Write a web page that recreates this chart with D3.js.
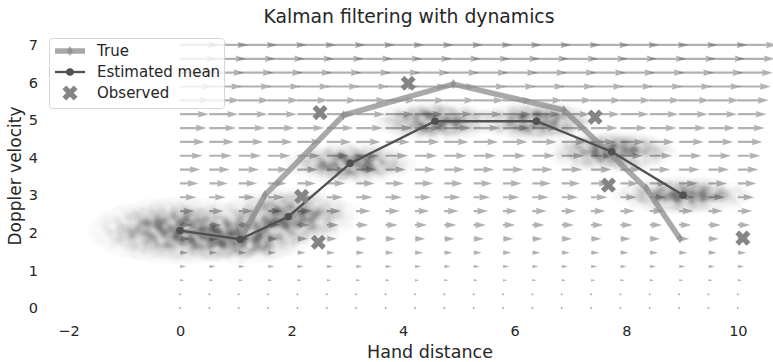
<!DOCTYPE html>
<html>
<head>
<meta charset="utf-8">
<script src="https://cdn.jsdelivr.net/npm/d3@7"></script>
<style>
  body { margin: 0; background: #fff; }
  svg { display: block; }
  text { font-family: "DejaVu Sans", sans-serif; fill: #262626; }
</style>
</head>
<body>
<svg id="chart" width="773" height="362"></svg>
<script>
// True state trajectory (hand distance, doppler velocity)
const trueX = [0, 1.08, 1.52, 2.93, 4.90, 6.88, 8.36, 8.96];
const trueV = [2.06, 1.83, 3.00, 5.13, 5.96, 5.27, 3.18, 1.85];
// Filtered posterior means
const estX = [0, 1.08, 1.94, 3.05, 4.57, 6.39, 7.74, 9.02];
const estV = [2.06, 1.83, 2.43, 3.85, 4.97, 4.97, 4.16, 3.00];
// Noisy observations
const obsX = [2.18, 2.48, 2.51, 4.09, 7.44, 7.68, 10.09];
const obsV = [2.97, 1.75, 5.20, 5.98, 5.08, 3.27, 1.86];
// Posterior spread around each mean (standard deviations)
const cloudSdX = [0.55, 0.42, 0.42, 0.40, 0.38, 0.37, 0.40, 0.42];
const cloudSdV = [0.30, 0.22, 0.26, 0.19, 0.18, 0.18, 0.19, 0.17];
// Axis ticks
const xTicks = [-2, 0, 2, 4, 6, 8, 10];
const yTicks = [0, 1, 2, 3, 4, 5, 6, 7];
// Dynamics field: position advances by velocity * dt
const dt = 0.1;
const linspace = (a, b, n) => d3.range(n).map(i => a + (b - a) * i / (n - 1));
const gridX = linspace(0, 10, 20);
const gridV = linspace(0, 7, 20);

const svg = d3.select("#chart");
const x = d3.scaleLinear().domain([-2.42, 10.63]).range([45, 773]);
const y = d3.scaleLinear().domain([-0.3, 7.3]).range([319.3, 33.7]);

const defs = svg.append("defs");
// Saturating gaussian density so that the sparse tails stay visible
const grad = defs.append("radialGradient").attr("id", "cloudFill");
const K = 3;           // ellipse radius in standard deviations
const maxOp = 0.64, gain = 3;
d3.range(0, 1.0001, 0.05).forEach(t => {
  const dens = Math.exp(-Math.pow(t * K, 2) / 2);
  grad.append("stop")
    .attr("offset", t)
    .attr("stop-color", "#1a1a1a")
    .attr("stop-opacity", maxOp * (1 - Math.exp(-gain * dens)));
});
// Grain texture for the sample clouds
const grain = defs.append("filter").attr("id", "grain")
  .attr("filterUnits", "userSpaceOnUse")
  .attr("x", 0).attr("y", 0).attr("width", 773).attr("height", 362);
grain.append("feTurbulence").attr("type", "fractalNoise")
  .attr("baseFrequency", 0.11).attr("numOctaves", 1).attr("seed", 7).attr("result", "noise");
grain.append("feColorMatrix").attr("in", "noise").attr("type", "matrix")
  .attr("values", "0 0 0 0 0  0 0 0 0 0  0 0 0 0 0  1.5 0 0 0 -0.05")
  .attr("result", "mask");
grain.append("feComposite").attr("in", "SourceGraphic").attr("in2", "mask").attr("operator", "in");

// ---- quiver field ----
const w = 2.2, hl = 5, hal = 4.5, hw = 3;   // arrow proportions in shaft widths
function arrowPath(px, py, L) {
  const Lw = L / w;
  if (Lw < 1) {
    return d3.range(6).map(k => {
      const a = Math.PI / 3 * k;
      return [px + Math.cos(a) * 0.5 * w, py + Math.sin(a) * 0.5 * w];
    });
  }
  let xs, ys;
  if (Lw < hl) {
    const s = Lw / hl;
    xs = [0, hl - hal, 0, hl].map(v => v * s);
    ys = [0.5, 0.5, hw / 2, 0].map(v => v * s);
  } else {
    xs = [0, Lw - hal, Lw - hl, Lw];
    ys = [0.5, 0.5, hw / 2, 0];
  }
  const pts = [];
  for (let i = 0; i < 4; i++) pts.push([px + xs[i] * w, py - ys[i] * w]);
  for (let i = 2; i >= 0; i--) pts.push([px + xs[i] * w, py + ys[i] * w]);
  return pts;
}
const field = [];
gridV.forEach(v => gridX.forEach(gx => field.push({ gx, v })));
svg.append("g").attr("class", "quiver")
  .selectAll("polygon").data(field).join("polygon")
  .attr("points", d => {
    const L = x(d.gx + dt * d.v) - x(d.gx);
    return arrowPath(x(d.gx), y(d.v), L).map(p => p.join(",")).join(" ");
  })
  .attr("fill", "#666").attr("fill-opacity", 0.5);

// ---- posterior clouds ----
svg.append("g").attr("class", "clouds").attr("filter", "url(#grain)")
  .selectAll("ellipse").data(estX).join("ellipse")
  .attr("cx", (d, i) => x(estX[i]))
  .attr("cy", (d, i) => y(estV[i]))
  .attr("rx", (d, i) => x(K * cloudSdX[i]) - x(0))
  .attr("ry", (d, i) => y(0) - y(K * cloudSdV[i]))
  .attr("fill", "url(#cloudFill)");

// ---- true trajectory ----
const line = d3.line().x(d => x(d[0])).y(d => y(d[1]));
const truePts = trueX.map((v, i) => [v, trueV[i]]);
const estPts = estX.map((v, i) => [v, estV[i]]);
const diamond = "M0,-5 L3,0 L0,5 L-3,0 Z";
svg.append("path").attr("d", line(truePts))
  .attr("fill", "none").attr("stroke", "#8c8c8c").attr("stroke-opacity", 0.75)
  .attr("stroke-width", 5.5).attr("stroke-linejoin", "round");
svg.append("g").selectAll("path").data(truePts).join("path")
  .attr("d", diamond)
  .attr("transform", d => `translate(${x(d[0])},${y(d[1])})`)
  .attr("fill", "#8c8c8c").attr("fill-opacity", 0.75);

// ---- estimated mean ----
svg.append("path").attr("d", line(estPts))
  .attr("fill", "none").attr("stroke", "#505050").attr("stroke-width", 2.3);
svg.append("g").selectAll("circle").data(estPts).join("circle")
  .attr("cx", d => x(d[0])).attr("cy", d => y(d[1])).attr("r", 3.8)
  .attr("fill", "#505050");

// ---- observations ----
function xMarker(s) {
  const h = s / 2, t = s / 6;
  const plus = [[t,t],[h,t],[h,-t],[t,-t],[t,-h],[-t,-h],[-t,-t],[-h,-t],[-h,t],[-t,t],[-t,h],[t,h]];
  const c = Math.SQRT1_2;
  return "M" + plus.map(([a, b]) => [(a - b) * c, (a + b) * c].join(",")).join("L") + "Z";
}
svg.append("g").selectAll("path").data(obsX).join("path")
  .attr("d", xMarker(16))
  .attr("transform", (d, i) => `translate(${x(obsX[i])},${y(obsV[i])})`)
  .attr("fill", "#858585");

// ---- axes ----
const gx = svg.append("g").attr("transform", `translate(0,${y.range()[0]})`)
  .call(d3.axisBottom(x).tickValues(xTicks).tickSize(0).tickPadding(6.5));
const gy = svg.append("g").attr("transform", `translate(${x.range()[0]},0)`)
  .call(d3.axisLeft(y).tickValues(yTicks).tickSize(0).tickPadding(7));
[gx, gy].forEach(g => {
  g.select(".domain").remove();
  g.selectAll("text").attr("font-size", 14.5).attr("font-family", "DejaVu Sans").attr("fill", "#262626");
});

svg.append("text").attr("x", 409).attr("y", 23).attr("text-anchor", "middle")
  .attr("font-size", 18.8).text("Kalman filtering with dynamics");
svg.append("text").attr("x", 430).attr("y", 357.5).attr("text-anchor", "middle")
  .attr("font-size", 17.5).text("Hand distance");
svg.append("text").attr("transform", "translate(21,176) rotate(-90)")
  .attr("text-anchor", "middle").attr("font-size", 17).text("Doppler velocity");

// ---- legend ----
const lg = svg.append("g").attr("class", "legend");
lg.append("rect").attr("x", 49.5).attr("y", 38.5).attr("width", 175).attr("height", 70)
  .attr("rx", 3).attr("fill", "#fff").attr("fill-opacity", 0.8)
  .attr("stroke", "#d6d6d6").attr("stroke-width", 1);
const rows = [
  { label: "True", y: 51 },
  { label: "Estimated mean", y: 72 },
  { label: "Observed", y: 93 }
];
lg.append("line").attr("x1", 55).attr("x2", 85).attr("y1", rows[0].y).attr("y2", rows[0].y)
  .attr("stroke", "#8c8c8c").attr("stroke-opacity", 0.75).attr("stroke-width", 5.5);
lg.append("path").attr("d", diamond).attr("transform", `translate(70,${rows[0].y})`)
  .attr("fill", "#8c8c8c").attr("fill-opacity", 0.75);
lg.append("line").attr("x1", 55).attr("x2", 85).attr("y1", rows[1].y).attr("y2", rows[1].y)
  .attr("stroke", "#505050").attr("stroke-width", 2.3);
lg.append("circle").attr("cx", 70).attr("cy", rows[1].y).attr("r", 3.8).attr("fill", "#505050");
lg.append("path").attr("d", xMarker(16)).attr("transform", `translate(70,${rows[2].y})`)
  .attr("fill", "#858585");
lg.selectAll("text.lab").data(rows).join("text").attr("class", "lab")
  .attr("x", 97).attr("y", d => d.y).attr("dy", "0.35em")
  .attr("font-size", 15).text(d => d.label);
</script>
</body>
</html>
